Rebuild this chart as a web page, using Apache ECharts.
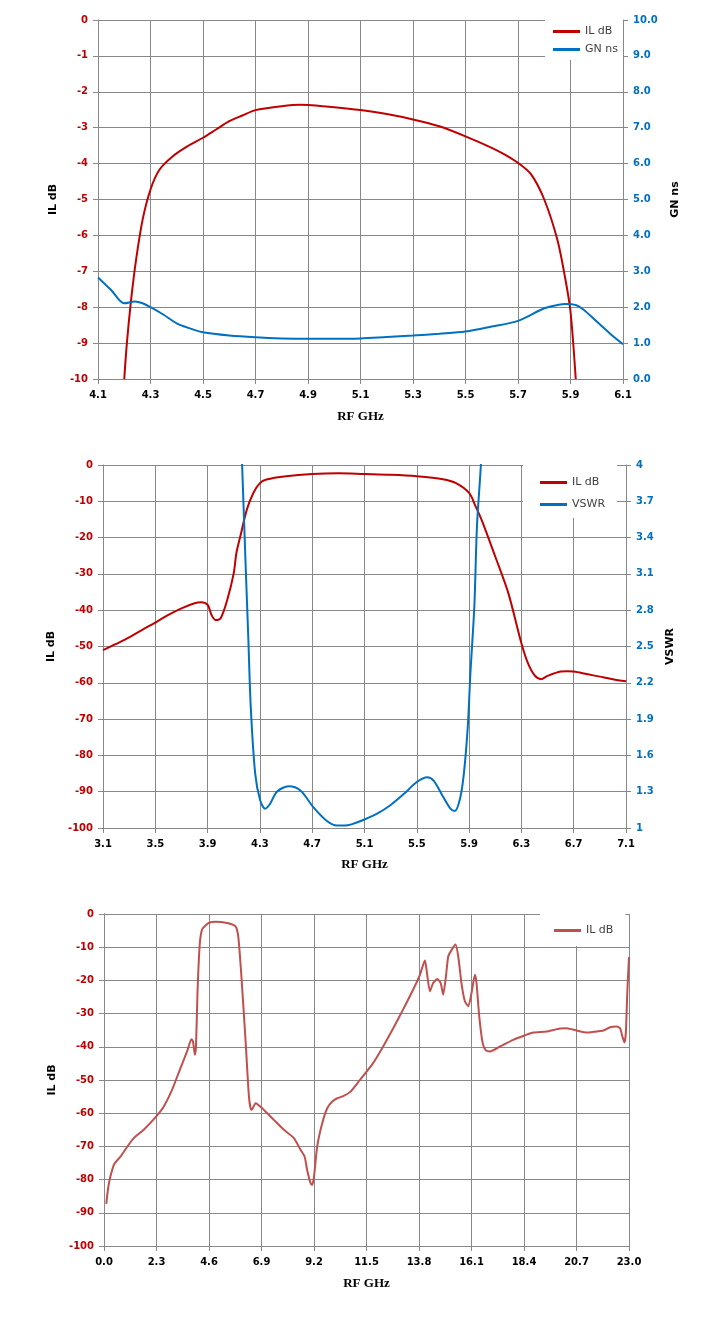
<!DOCTYPE html>
<html>
<head>
<meta charset="utf-8">
<script src="https://cdn.jsdelivr.net/npm/echarts@6/dist/echarts.min.js"></script>
<style>
  html, body { margin: 0; padding: 0; background: #fff; }
  .box { position: absolute; left: 0; width: 718px; }
</style>
</head>
<body>
<div id="c1" class="box" style="top:0;height:440px"></div>
<div id="c2" class="box" style="top:440px;height:445px"></div>
<div id="c3" class="box" style="top:885px;height:447px"></div>
<script>
// ---- chart 1: passband IL and group delay ----
var il1Freq = [4.2, 4.21, 4.226, 4.245, 4.27, 4.3, 4.334, 4.384, 4.44, 4.5, 4.55, 4.6, 4.65, 4.7, 4.8, 4.87, 4.9, 5.0, 5.1, 5.2, 5.3, 5.4, 5.5, 5.6, 5.65, 5.7, 5.75, 5.8, 5.85, 5.88, 5.9, 5.92];
var il1Val = [-10, -9, -7.8, -6.68, -5.56, -4.72, -4.17, -3.8, -3.52, -3.28, -3.05, -2.82, -2.66, -2.51, -2.4, -2.36, -2.37, -2.43, -2.51, -2.62, -2.77, -2.96, -3.24, -3.56, -3.75, -3.98, -4.3, -5.0, -6.12, -7.2, -8.12, -10];
var gn1Freq = [4.1, 4.15, 4.2, 4.24, 4.27, 4.3, 4.35, 4.4, 4.45, 4.5, 4.6, 4.7, 4.8, 4.9, 5.0, 5.1, 5.2, 5.3, 5.4, 5.5, 5.6, 5.7, 5.8, 5.85, 5.88, 5.92, 5.95, 6.0, 6.05, 6.1];
var gn1Val = [2.83, 2.48, 2.11, 2.16, 2.11, 2.0, 1.79, 1.55, 1.41, 1.3, 1.21, 1.16, 1.13, 1.12, 1.12, 1.13, 1.17, 1.21, 1.26, 1.32, 1.46, 1.62, 1.97, 2.06, 2.09, 2.06, 1.93, 1.6, 1.27, 0.97];

// ---- chart 2: IL and VSWR ----
var il2Freq = [3.1, 3.2, 3.3, 3.4, 3.5, 3.6, 3.7, 3.8, 3.85, 3.9, 3.93, 3.96, 4.0, 4.05, 4.1, 4.12, 4.15, 4.2, 4.25, 4.3, 4.35, 4.5, 4.7, 4.9, 5.1, 5.3, 5.5, 5.7, 5.8, 5.9, 5.95, 6.0, 6.1, 6.2, 6.3, 6.35, 6.4, 6.45, 6.5, 6.6, 6.65, 6.7, 6.8, 6.9, 7.0, 7.1];
var il2Val = [-51, -49.3, -47.5, -45.4, -43.4, -41.3, -39.5, -38.1, -37.8, -38.5, -41.3, -42.7, -42.2, -37.2, -29.8, -24.3, -19.7, -12.3, -7.7, -5.0, -4.0, -3.1, -2.5, -2.3, -2.5, -2.7, -3.1, -3.9, -5.0, -7.7, -11.4, -15.5, -25.2, -35.3, -49.1, -54.6, -57.9, -59.0, -58.1, -56.9, -56.8, -56.9, -57.6, -58.3, -59.0, -59.6];
var vswrFreq = [4.15, 4.164, 4.19, 4.212, 4.23, 4.264, 4.302, 4.34, 4.378, 4.43, 4.52, 4.61, 4.71, 4.81, 4.89, 4.95, 5.0, 5.1, 5.2, 5.3, 5.4, 5.5, 5.58, 5.63, 5.7, 5.757, 5.79, 5.83, 5.86, 5.89, 5.91, 5.94, 5.96, 5.99, 6.0];
var vswrVal = [4.4, 4.0, 3.2, 2.55, 2.0, 1.45, 1.23, 1.16, 1.2, 1.3, 1.345, 1.31, 1.17, 1.06, 1.02, 1.02, 1.03, 1.07, 1.12, 1.19, 1.28, 1.38, 1.42, 1.39, 1.26, 1.16, 1.14, 1.24, 1.45, 1.84, 2.28, 2.83, 3.49, 4.0, 4.3];

// ---- chart 3: wideband IL ----
var il3Freq = [0.1, 0.18, 0.28, 0.45, 0.72, 1.08, 1.3, 1.74, 2.31, 2.62, 2.98, 3.35, 3.64, 3.83, 3.9, 3.98, 4.03, 4.1, 4.2, 4.31, 4.59, 4.88, 5.39, 5.76, 5.88, 6.01, 6.2, 6.35, 6.45, 6.52, 6.64, 6.93, 7.44, 7.88, 8.32, 8.61, 8.79, 8.9, 9.05, 9.12, 9.2, 9.34, 9.56, 9.78, 10.0, 10.22, 10.5, 10.8, 11.21, 11.79, 12.23, 12.67, 13.1, 13.54, 13.84, 14.06, 14.13, 14.28, 14.42, 14.6, 14.75, 14.86, 14.98, 15.08, 15.23, 15.4, 15.52, 15.67, 15.81, 15.96, 16.1, 16.25, 16.32, 16.44, 16.59, 16.73, 16.91, 17.35, 17.93, 18.42, 18.81, 19.39, 19.98, 20.27, 20.71, 21.15, 21.44, 21.88, 22.17, 22.46, 22.61, 22.71, 22.8, 22.86, 22.93, 23.0];
var il3Val = [-87.3, -82.6, -79.1, -75.3, -73.1, -69.5, -67.5, -65.0, -60.8, -58.0, -53.0, -46.4, -41.4, -37.7, -38.4, -42.4, -39.9, -22.8, -8.7, -4.5, -2.7, -2.3, -2.7, -3.7, -6.7, -17.8, -37.9, -55, -59, -58.5, -57, -58.5, -62, -65, -67.5, -71, -73.1, -77.1, -81.1, -81.6, -79.1, -70, -63, -58.5, -56.5, -55.5, -54.8, -53.5, -50, -44.9, -39.9, -34.4, -28.8, -22.8, -18.3, -14.0, -16.8, -23.3, -20.8, -19.6, -20.8, -24.3, -18.8, -12.8, -10.8, -9.2, -12.8, -21.3, -26.3, -27.8, -23.8, -18.3, -20.8, -30.9, -38.9, -41.1, -41.4, -39.9, -37.9, -36.6, -35.7, -35.4, -34.5, -34.4, -35.1, -35.7, -35.5, -35.1, -34.1, -33.9, -34.4, -36.9, -38.7, -35.9, -22.8, -13];

var GRID = '#888888';
var RED = '#c00000';
var BLUE = '#0070c0';
var SANS = 'DejaVu Sans';

function pairs(xs, ys) {
  return xs.map(function (x, i) { return [x, ys[i]]; });
}

function xAxisOf(min, max, interval, gap) {
  return {
    type: 'value', min: min, max: max, interval: interval,
    name: 'RF GHz', nameLocation: 'middle', nameGap: gap,
    nameTextStyle: { fontFamily: 'Liberation Serif', fontWeight: 'bold', fontSize: 13, color: '#000' },
    axisLine: { onZero: false, lineStyle: { color: GRID } },
    axisTick: { show: true, length: 5, lineStyle: { color: GRID } },
    splitLine: { show: true, lineStyle: { color: GRID, width: 1 } },
    axisLabel: {
      margin: 11, color: '#000', fontFamily: SANS, fontWeight: 'bold', fontSize: 10,
      formatter: function (v) { return v.toFixed(1); }
    }
  };
}

function yAxisOf(opts) {
  return {
    type: 'value', min: opts.min, max: opts.max, interval: opts.interval,
    position: opts.position || 'left',
    name: opts.name, nameLocation: 'middle', nameGap: opts.gap, nameRotate: 90,
    nameTextStyle: { fontFamily: SANS, fontWeight: 'bold', fontSize: 11, color: '#000' },
    axisLine: { show: true, onZero: false, lineStyle: { color: GRID } },
    axisTick: { show: true, length: 5, lineStyle: { color: GRID } },
    splitLine: { show: opts.split !== false, lineStyle: { color: GRID, width: 1 } },
    axisLabel: {
      margin: 10, color: opts.color, fontFamily: SANS, fontWeight: 'bold', fontSize: 10,
      formatter: opts.fmt
    }
  };
}

function lineSeries(name, data, color, yIndex, smooth) {
  return {
    name: name, type: 'line', data: data, yAxisIndex: yIndex || 0,
    showSymbol: false, symbol: 'none', smooth: smooth,
    lineStyle: { color: color, width: 2 }, itemStyle: { color: color },
    clip: true, animation: false
  };
}

function legendOf(left, top, padding, gap) {
  return {
    orient: 'vertical', left: left, top: top, padding: padding, itemGap: gap,
    icon: 'rect', itemWidth: 27, itemHeight: 3,
    backgroundColor: '#fff',
    textStyle: { fontFamily: SANS, fontSize: 11, color: '#404040' }
  };
}

function intLabel(v) { return String(Math.round(v)); }

var chart1 = echarts.init(document.getElementById('c1'));
chart1.setOption({
  animation: false,
  grid: { left: 98, right: 95, top: 20, bottom: 61 },
  legend: legendOf(545, 20, [6, 5, 5, 8], 7),
  xAxis: xAxisOf(4.1, 6.1, 0.2, 31),
  yAxis: [
    yAxisOf({ min: -10, max: 0, interval: 1, name: 'IL dB', gap: 37, color: RED, fmt: intLabel }),
    yAxisOf({ min: 0, max: 10, interval: 1, name: 'GN ns', gap: 47, color: BLUE, position: 'right', split: false,
      fmt: function (v) { return v.toFixed(1); } })
  ],
  series: [
    lineSeries('IL dB', pairs(il1Freq, il1Val), RED, 0, 0.3),
    lineSeries('GN ns', pairs(gn1Freq, gn1Val), BLUE, 1, 0.3)
  ]
});

var chart2 = echarts.init(document.getElementById('c2'));
chart2.setOption({
  animation: false,
  grid: { left: 103, right: 92, top: 25, bottom: 57 },
  legend: legendOf(523, 25, [12, 12, 8, 17], 11),
  xAxis: xAxisOf(3.1, 7.1, 0.4, 30),
  yAxis: [
    yAxisOf({ min: -100, max: 0, interval: 10, name: 'IL dB', gap: 44, color: RED, fmt: intLabel }),
    yAxisOf({ min: 1, max: 4, interval: 0.3, name: 'VSWR', gap: 36, color: BLUE, position: 'right', split: false,
      fmt: function (v) { return String(Math.round(v * 10) / 10); } })
  ],
  series: [
    lineSeries('IL dB', pairs(il2Freq, il2Val), RED, 0, 0.3),
    lineSeries('VSWR', pairs(vswrFreq, vswrVal), BLUE, 1, 0.3)
  ]
});

var chart3 = echarts.init(document.getElementById('c3'));
chart3.setOption({
  animation: false,
  grid: { left: 104, right: 89, top: 29, bottom: 86 },
  legend: legendOf(540, 29, [11, 12, 10, 14], 5),
  xAxis: xAxisOf(0, 23, 2.3, 31),
  yAxis: [
    yAxisOf({ min: -100, max: 0, interval: 10, name: 'IL dB', gap: 45, color: RED, fmt: intLabel }),
    { type: 'value', min: 0, max: 1, position: 'right', axisLine: { show: true, lineStyle: { color: GRID } },
      axisTick: { show: false }, axisLabel: { show: false }, splitLine: { show: false } }
  ],
  series: [
    lineSeries('IL dB', pairs(il3Freq, il3Val), '#c0504d', 0, 0.2)
  ]
});
</script>
</body>
</html>
